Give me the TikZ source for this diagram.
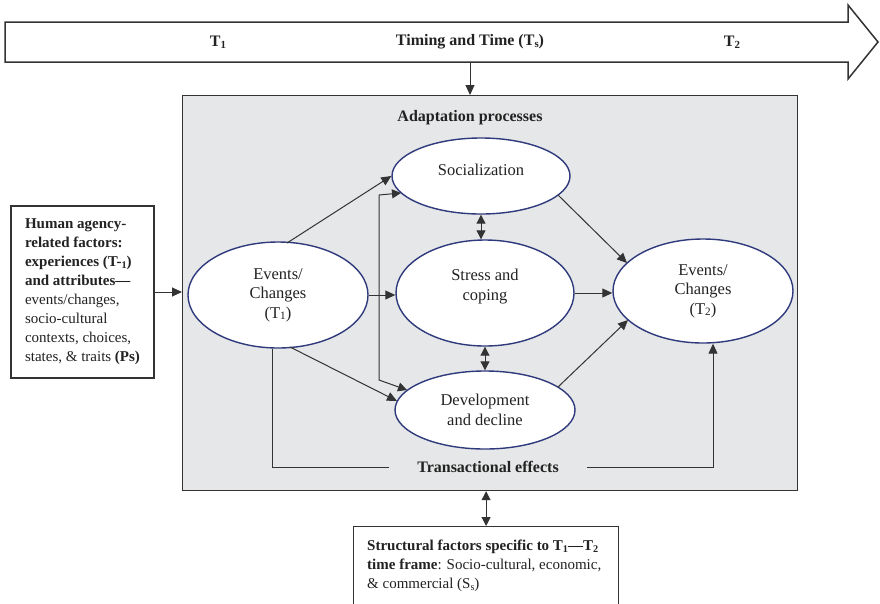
\documentclass[tikz,border=0pt]{standalone}
\usepackage{fontspec}
\setmainfont{Liberation Serif}
\usetikzlibrary{arrows.meta,shapes.geometric,calc}
\definecolor{ink}{HTML}{222222}
\definecolor{linec}{HTML}{333333}
\definecolor{navy}{HTML}{2E3A7C}
\definecolor{panel}{HTML}{E6E7E8}
\newcommand{\sbs}[1]{\raisebox{-0.1em}{\scalebox{0.68}{#1}}}
\begin{document}
\begin{tikzpicture}[x=1pt,y=-1pt,
  every node/.style={text=ink},
  oval/.style={ellipse, draw=navy, line width=1.4pt, fill=white, inner sep=0pt, align=center, font=\fontsize{16.5}{19.5}\selectfont},
  conn/.style={draw=linec, line width=1pt},
  arr/.style={conn, -{Triangle[length=10pt,width=9pt]}},
  dbl/.style={conn, {Triangle[length=9pt,width=9pt]}-{Triangle[length=9pt,width=9pt]}},
  boxed/.style={draw=linec, line width=1.2pt, fill=white, inner sep=0pt},
  lbl/.style={font=\bfseries\fontsize{16}{19}\selectfont, inner sep=0pt}
]
\useasboundingbox (0,0) rectangle (880,603);

% timeline arrow
\draw[linec, line width=1.5pt, fill=white] (5,22) -- (848,22) -- (848,5) -- (878,42) -- (848,79) -- (848,62) -- (5,62) -- cycle;
\node[lbl] (t1) at (218,42) {T\sbs{1}};
\node[lbl] (tt) at (470,42) {Timing and Time (T\sbs{s})};
\node[lbl] (t2) at (732,42) {T\sbs{2}};
\coordinate (tl) at (470,62);

% panel
\node[draw=linec, line width=1.2pt, fill=panel, minimum width=615pt, minimum height=395pt, anchor=north west, inner sep=0pt] (adapt) at (182,95) {};
\node[lbl] (adlbl) at (470,118) {Adaptation processes};

% ellipses
\node[oval, minimum width=178pt, minimum height=76pt, text depth=12pt] (soc) at (481,176) {Socialization};
\node[oval, minimum width=178pt, minimum height=106pt, text depth=16pt] (str) at (485,293) {Stress and\\coping};
\node[oval, minimum width=180pt, minimum height=78pt] (dev) at (485,410) {Development\\and decline};
\node[oval, minimum width=180pt, minimum height=106pt] (e1) at (278,295) {Events/\\Changes\\(T\sbs{1})};
\node[oval, minimum width=180pt, minimum height=104pt] (e2) at (703,291) {Events/\\Changes\\(T\sbs{2})};

% human agency box
\node[boxed, minimum width=143pt, minimum height=172pt, align=left, font=\fontsize{15}{19}\selectfont] (hum) at (82.5,292)
 {\textbf{Human agency-}\\ \textbf{related factors:}\\ \textbf{experiences (T-\sbs{1})}\\ \textbf{and attributes---}\\ events/changes,\\ socio-cultural\\ contexts, choices,\\ states, \& traits \textbf{(Ps)}};

% structural box
\node[boxed, minimum width=265pt, minimum height=90pt, anchor=north west] (sbox) at (353,526) {};
\node[anchor=north west, align=left, inner sep=0pt, font=\fontsize{15}{19}\selectfont] (stxt) at (367,540)
 {\textbf{Structural factors specific to T\sbs{1}---T\sbs{2}}\\ \textbf{time frame}: Socio-cultural, economic,\\ \& commercial (S\sbs{s})};

% transactional label
\node[lbl, inner xsep=28pt] (trans) at (488,467) {Transactional effects};

% connectors
\coordinate (bt) at (379,195);
\coordinate (bb) at (379,380);
\draw[arr] ($(e1.center)+(9,-52)$) -- (soc.west);
\draw[dbl] ($(soc.center)+(-80,17)$) -- (bt) -- (bb) -- ($(dev.center)+(-78,-20)$);
\draw[arr] (e1.east) -- (e1.east -| str.west);
\draw[arr] ($(e1.center)+(12,52)$) -- ($(dev.center)+(-88,-9)$);
\draw[arr] ($(soc.center)+(77,19)$) -- ($(e2.center)+(-76,-28)$);
\draw[arr] (str.east) -- (str.east -| e2.west);
\draw[arr] ($(dev.center)+(73,-23)$) -- ($(e2.center)+(-75,29)$);
\draw[dbl] (soc.south) -- (soc.south |- str.north);
\draw[dbl] (str.south) -- (str.south |- dev.north);
\draw[conn] ($(e1.south)+(-6,0)$) |- (trans.west);
\draw[arr] (trans.east) -| ($(e2.south)+(10,0)$);
\draw[arr] (hum.east) -- (hum.east -| adapt.west);
\draw[arr] (tl) -- (tl |- adapt.north);
\draw[dbl] (sbox.north) -- (sbox.north |- adapt.south);
\end{tikzpicture}
\end{document}
